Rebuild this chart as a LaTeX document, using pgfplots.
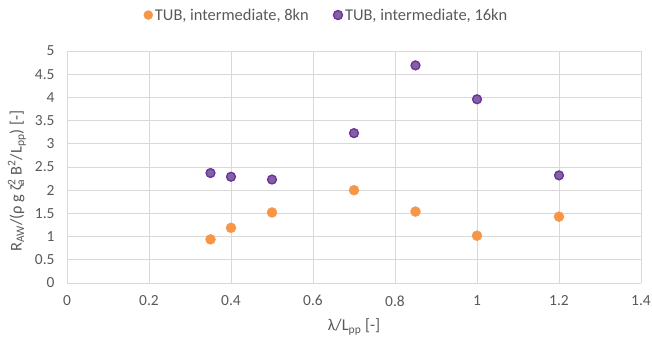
\documentclass[border=0pt]{standalone}
\usepackage{pgfplots}
\pgfplotsset{compat=1.18}
\usepackage{fontspec}
\setmainfont{Carlito}
\definecolor{gridc}{HTML}{D9D9D9}
\definecolor{txt}{HTML}{595959}
\definecolor{orng}{HTML}{F79646}
\definecolor{purp}{HTML}{8064A2}
\definecolor{purpedge}{HTML}{7030A0}
\begin{document}
\begin{tikzpicture}
\useasboundingbox (0,0) rectangle (652bp,342bp);
\begin{axis}[
  at={(67bp,59bp)}, anchor=south west,
  scale only axis, width=574bp, height=232bp,
  xmin=0, xmax=1.4, ymin=0, ymax=5,
  xtick={0,0.2,0.4,0.6,0.8,1,1.2,1.4},
  ytick={0,0.5,1,1.5,2,2.5,3,3.5,4,4.5,5},
  xticklabels={0,0.2,0.4,0.6,0.8,1,1.2,1.4},
  yticklabels={0,0.5,1,1.5,2,2.5,3,3.5,4,4.5,5},
  grid=major, major grid style={gridc, line width=0.9bp},
  axis line style={draw=none}, tick style={draw=none},
  ticklabel style={font=\fontsize{15.5}{17}\selectfont, text=txt},
  xticklabel style={yshift=-9bp},
  yticklabel style={xshift=-9bp},
  xlabel={λ/L\textsubscript{pp} [-]},
  ylabel={R\textsubscript{AW}/(ρ g ζ\rlap{\textsuperscript{2}}\textsubscript{a} B\textsuperscript{2}/L\textsubscript{pp}) [-]},
  every axis x label/.style={at={(axis description cs:0.5,-0.19)}, anchor=center, font=\fontsize{16.5}{18}\selectfont, text=txt},
  every axis y label/.style={at={(axis description cs:-0.0871,0.44)}, anchor=center, rotate=90, font=\fontsize{16.5}{18}\selectfont, text=txt},
  legend columns=2,
  legend style={at={(0.452,1.155)}, anchor=center, draw=none, fill=none,
    font=\fontsize{16.5}{18}\selectfont, text=txt,
    /tikz/every even column/.append style={column sep=22bp}},
  legend image code/.code={\draw[#1] (0bp,0bp) circle (4.5bp);},
]
\addplot[only marks, mark=*, mark size=5bp, color=orng, fill=orng, draw=orng] coordinates {
(0.35,0.94) (0.4,1.19) (0.5,1.52) (0.7,2.00) (0.85,1.54) (1.0,1.02) (1.2,1.43)};
\addlegendentry{TUB, intermediate, 8kn}
\addplot[only marks, mark=*, mark size=4.4bp, color=purpedge, fill=purp, line width=1.4bp] coordinates {
(0.35,2.37) (0.4,2.29) (0.5,2.23) (0.7,3.23) (0.85,4.69) (1.0,3.96) (1.2,2.32)};
\addlegendentry{TUB, intermediate, 16kn}
\end{axis}
\end{tikzpicture}
\end{document}
